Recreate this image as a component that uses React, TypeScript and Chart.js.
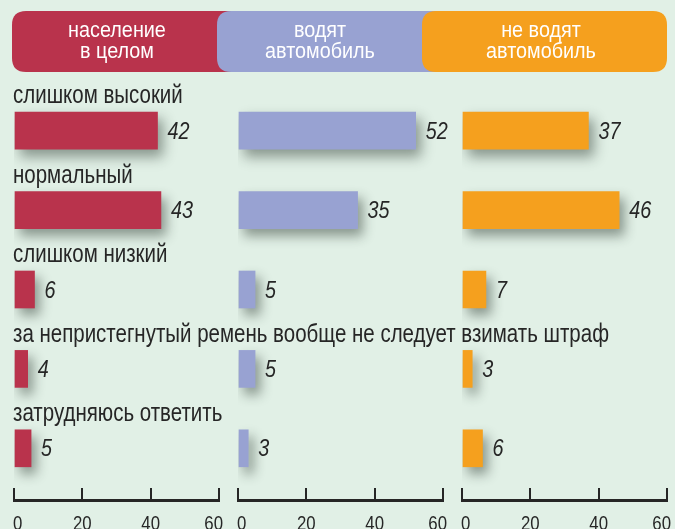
import React, { useEffect, useRef } from "react";
import { Chart, registerables } from "chart.js";

Chart.register(...registerables);

// ---- data ----
const categories = [
  "слишком высокий",
  "нормальный",
  "слишком низкий",
  "за непристегнутый ремень вообще не следует взимать штраф",
  "затрудняюсь ответить",
];
const panelTitles = [
  ["население", "в целом"],
  ["водят", "автомобиль"],
  ["не водят", "автомобиль"],
];
const populationValues = [42, 43, 6, 4, 5];
const driversValues = [52, 35, 5, 5, 3];
const nonDriversValues = [37, 46, 7, 3, 6];
const axisTicks = [0, 20, 40, 60];

// ---- style ----
const W = 675;
const H = 529;
const BG = "#e1f0e6";
const COLORS = ["#b9334c", "#98a2d2", "#f5a01e"];
const PANEL_LEFT = [14, 238, 462];
const PANEL_WIDTH = 205;
const PILLS = [
  [12, 245],
  [217, 450],
  [422, 667],
];
const PILL_TEXT_X = [117, 320, 541];
const FONT = '"Liberation Sans", Arial, sans-serif';
const TEXT = "#262626";
const LONGEST_LABEL_WIDTH = 596;

function roundRect(ctx: CanvasRenderingContext2D, x: number, y: number, w: number, h: number, r: number) {
  ctx.beginPath();
  ctx.moveTo(x + r, y);
  ctx.lineTo(x + w - r, y);
  ctx.quadraticCurveTo(x + w, y, x + w, y + r);
  ctx.lineTo(x + w, y + h - r);
  ctx.quadraticCurveTo(x + w, y + h, x + w - r, y + h);
  ctx.lineTo(x + r, y + h);
  ctx.quadraticCurveTo(x, y + h, x, y + h - r);
  ctx.lineTo(x, y + r);
  ctx.quadraticCurveTo(x, y, x + r, y);
  ctx.closePath();
}

// draws horizontally condensed text
function narrowText(
  ctx: CanvasRenderingContext2D,
  text: string,
  x: number,
  y: number,
  font: string,
  sx: number,
  align: CanvasTextAlign
) {
  ctx.save();
  ctx.font = font;
  ctx.textAlign = align;
  ctx.textBaseline = "alphabetic";
  ctx.translate(x, y);
  ctx.scale(sx, 1);
  ctx.fillText(text, 0, 0);
  ctx.restore();
}

function makeChart(canvas: HTMLCanvasElement, panel: number, values: number[]) {
  const backgroundPlugin = {
    id: "bgHeaders" + panel,
    beforeDraw(chart: any) {
      if (panel !== 0) return;
      const ctx = chart.ctx as CanvasRenderingContext2D;
      ctx.save();
      ctx.fillStyle = BG;
      ctx.fillRect(0, 0, W, H);
      PILLS.forEach(([x0, x1], i) => {
        ctx.fillStyle = COLORS[i];
        roundRect(ctx, x0, 11, x1 - x0, 61, 14);
        ctx.fill();
      });
      ctx.fillStyle = "#ffffff";
      const f = `22.5px ${FONT}`;
      panelTitles.forEach((lines, i) => {
        narrowText(ctx, lines[0], PILL_TEXT_X[i], 36.7, f, 0.88, "center");
        narrowText(ctx, lines[1], PILL_TEXT_X[i], 58.3, f, 0.88, "center");
      });
      ctx.restore();
    },
  };

  const shadowPlugin = {
    id: "shadow" + panel,
    beforeDatasetsDraw(chart: any) {
      const ctx = chart.ctx as CanvasRenderingContext2D;
      ctx.save();
      ctx.shadowColor = "rgba(30,45,35,0.45)";
      ctx.shadowBlur = 12;
      ctx.shadowOffsetX = 5;
      ctx.shadowOffsetY = 7;
    },
    afterDatasetsDraw(chart: any) {
      chart.ctx.restore();
    },
  };

  const labelPlugin = {
    id: "labels" + panel,
    afterDraw(chart: any) {
      const ctx = chart.ctx as CanvasRenderingContext2D;
      const xs = chart.scales.x;
      const ys = chart.scales.y;
      ctx.save();
      ctx.fillStyle = TEXT;
      // axis baseline
      const x0 = xs.getPixelForValue(axisTicks[0]);
      const x1 = xs.getPixelForValue(axisTicks[axisTicks.length - 1]);
      ctx.fillRect(x0 - 1, xs.top + 11, x1 - x0 + 2, 3);
      // axis tick labels
      const tf = `21px ${FONT}`;
      xs.ticks.forEach((t: any, i: number) => {
        const px = xs.getPixelForValue(t.value);
        const last = i === xs.ticks.length - 1;
        if (i === 0) narrowText(ctx, String(t.value), px - 1, 530, tf, 0.8, "left");
        else if (last) narrowText(ctx, String(t.value), px + 4, 530, tf, 0.8, "right");
        else narrowText(ctx, String(t.value), px, 530, tf, 0.8, "center");
      });
      // value labels
      const meta = chart.getDatasetMeta(0);
      const vf = `italic 23px ${FONT}`;
      meta.data.forEach((bar: any, i: number) => {
        narrowText(ctx, String(values[i]), bar.x + 10, bar.y + 8, vf, 0.86, "left");
      });
      // category labels
      if (panel === 0) {
        const cf = `25px ${FONT}`;
        ctx.font = cf;
        const longest = Math.max(...categories.map((c) => ctx.measureText(c).width));
        const sx = LONGEST_LABEL_WIDTH / longest;
        categories.forEach((c, i) => {
          narrowText(ctx, c, 13, ys.getPixelForValue(i) - 27.3, cf, sx, "left");
        });
      }
      ctx.restore();
    },
  };

  return new Chart(canvas, {
    type: "bar",
    data: {
      labels: categories,
      datasets: [
        {
          data: values,
          backgroundColor: COLORS[panel],
          borderWidth: 0,
          barThickness: 37,
        },
      ],
    },
    options: {
      responsive: false,
      animation: false,
      indexAxis: "y",
      layout: {
        padding: {
          left: PANEL_LEFT[panel],
          right: W - PANEL_LEFT[panel] - PANEL_WIDTH,
          top: 91,
          bottom: 0,
        },
      },
      plugins: {
        legend: { display: false },
        tooltip: { enabled: false },
      },
      scales: {
        y: { type: "category", display: false, offset: true },
        x: {
          type: "linear",
          min: axisTicks[0],
          max: axisTicks[axisTicks.length - 1],
          afterBuildTicks: (s: any) => {
            s.ticks = axisTicks.map((v) => ({ value: v }));
          },
          afterFit: (s: any) => {
            s.height = 41;
          },
          border: { display: false },
          grid: {
            drawOnChartArea: false,
            drawTicks: true,
            tickLength: 12,
            color: TEXT,
            lineWidth: 2,
          },
          ticks: {
            display: false,
          },
        },
      },
    } as any,
    plugins: [backgroundPlugin, shadowPlugin, labelPlugin],
  });
}

export default function App() {
  const c0 = useRef<HTMLCanvasElement>(null);
  const c1 = useRef<HTMLCanvasElement>(null);
  const c2 = useRef<HTMLCanvasElement>(null);

  useEffect(() => {
    const charts = [
      makeChart(c0.current!, 0, populationValues),
      makeChart(c1.current!, 1, driversValues),
      makeChart(c2.current!, 2, nonDriversValues),
    ];
    return () => charts.forEach((c) => c.destroy());
  }, []);

  const canvasStyle: React.CSSProperties = { position: "absolute", left: 0, top: 0 };
  return (
    <div style={{ position: "absolute", left: 0, top: 0, width: W, height: H, overflow: "hidden", background: BG }}>
      <canvas ref={c0} width={W} height={H} style={canvasStyle} />
      <canvas ref={c1} width={W} height={H} style={canvasStyle} />
      <canvas ref={c2} width={W} height={H} style={canvasStyle} />
    </div>
  );
}
